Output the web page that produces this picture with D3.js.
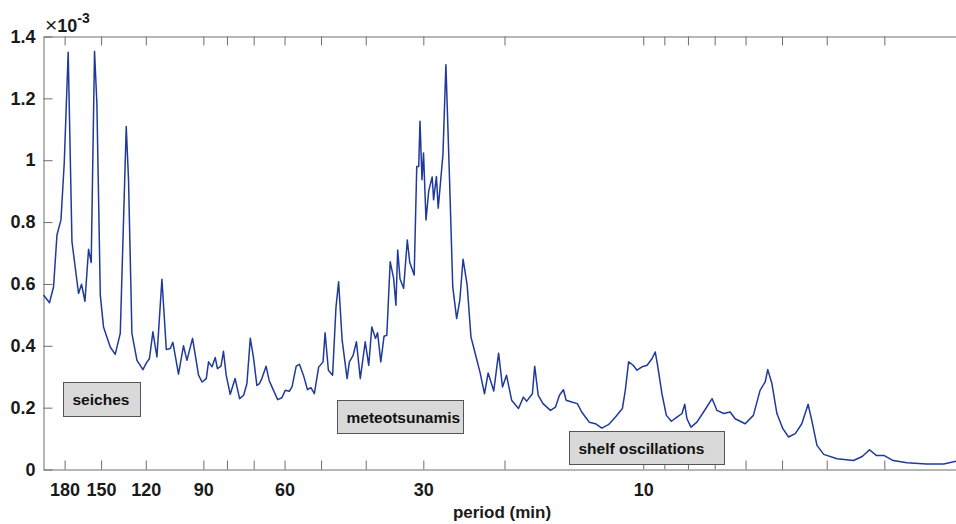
<!DOCTYPE html>
<html>
<head>
<meta charset="utf-8">
<script src="https://cdn.jsdelivr.net/npm/d3@7"></script>
<style>
  body { margin: 0; background: #ffffff; }
  svg { display: block; }
</style>
</head>
<body>
<div class="canvas"></div>
<script>
// period (min), spectral values in units of 10^-3
var periodMin = [200.0,194.1,190.2,187.0,183.3,180.3,176.8,173.5,167.9,165.4,
  162.6,159.7,157.6,155.0,153.2,150.6,148.2,143.3,139.8,136.3,
  132.3,130.8,128.6,125.4,121.7,119.7,117.8,115.8,113.5,110.7,
  108.3,106.2,104.8,101.9,99.4,97.7,95.0,92.2,90.6,88.7,
  87.7,86.2,84.8,83.9,82.4,81.4,80.3,78.7,76.8,75.1,
  73.6,72.4,71.2,70.1,68.9,68.0,67.2,65.8,64.8,63.9,
  62.1,60.8,59.8,58.6,57.8,56.6,55.7,54.6,53.5,52.6,
  51.7,50.6,49.5,49.0,48.2,47.2,46.4,45.8,45.0,43.9,
  43.4,42.6,41.9,41.1,40.1,39.4,38.8,38.1,37.7,37.1,
  36.5,36.0,35.4,34.8,34.4,34.1,33.7,33.1,32.5,32.1,
  31.4,31.0,30.7,30.5,30.2,29.97,29.6,29.2,28.7,28.5,
  28.1,27.85,27.5,27.2,26.8,26.3,25.9,25.4,25.0,24.6,
  24.1,23.65,23.15,22.6,22.1,21.7,21.1,20.6,20.2,19.8,
  19.3,18.65,18.2,17.9,17.4,17.2,16.9,16.5,15.9,15.5,
  15.2,14.9,14.7,14.3,13.9,13.6,13.1,12.7,12.3,11.9,
  11.5,11.1,10.94,10.76,10.52,10.32,10.06,9.81,9.57,9.42,
  9.31,9.11,8.91,8.69,8.45,8.24,8.13,8.04,7.88,7.65,
  7.40,7.09,6.92,6.69,6.48,6.32,6.01,5.77,5.58,5.44,
  5.37,5.26,5.13,4.98,4.84,4.68,4.53,4.39,4.31,4.20,
  4.06,3.80,3.50,3.35,3.23,3.12,3.00,2.87,2.68,2.43,
  2.23,2.09];

var spectrum = [0.564,0.539,0.591,0.758,0.807,0.992,1.349,0.737,0.569,0.599,
  0.544,0.712,0.669,1.352,1.186,0.564,0.461,0.396,0.372,0.440,
  1.109,0.937,0.440,0.353,0.323,0.344,0.359,0.445,0.364,0.615,
  0.388,0.391,0.411,0.308,0.400,0.353,0.424,0.305,0.283,0.294,
  0.348,0.332,0.362,0.326,0.334,0.382,0.305,0.243,0.294,0.229,
  0.240,0.278,0.424,0.364,0.272,0.278,0.294,0.334,0.288,0.267,
  0.226,0.232,0.256,0.253,0.267,0.334,0.340,0.305,0.258,0.265,
  0.245,0.331,0.348,0.442,0.321,0.305,0.526,0.607,0.418,0.294,
  0.348,0.369,0.413,0.294,0.413,0.337,0.461,0.424,0.442,0.348,
  0.431,0.434,0.672,0.618,0.531,0.710,0.616,0.586,0.742,0.669,
  0.629,0.980,0.980,1.126,0.937,1.023,0.807,0.901,0.946,0.872,
  0.947,0.845,0.937,1.018,1.309,0.924,0.591,0.488,0.548,0.680,
  0.596,0.429,0.375,0.314,0.245,0.312,0.254,0.376,0.267,0.305,
  0.224,0.197,0.234,0.221,0.245,0.334,0.240,0.213,0.191,0.202,
  0.240,0.258,0.224,0.218,0.213,0.186,0.153,0.148,0.134,0.145,
  0.169,0.197,0.256,0.348,0.337,0.321,0.332,0.337,0.359,0.380,
  0.337,0.245,0.175,0.156,0.169,0.181,0.211,0.164,0.137,0.153,
  0.186,0.229,0.191,0.181,0.186,0.164,0.148,0.175,0.256,0.283,
  0.323,0.278,0.181,0.132,0.105,0.116,0.148,0.211,0.159,0.078,
  0.049,0.035,0.029,0.042,0.064,0.045,0.045,0.029,0.022,0.018,
  0.018,0.027];

var xTicks = [180,150,120,90,80,70,60,50,40,30,20,10,9,8,7,6,5,4,3];
var xTickLabels = [180,150,120,90,60,30,10];
var yTicks = [0,0.2,0.4,0.6,0.8,1,1.2,1.4];
var boxLabels = ["seiches","meteotsunamis","shelf oscillations"];

var width = 956, height = 524;
var plotLeft = 43.5, plotRight = 965.5, plotTop = 36.5, plotBottom = 469.5;
var axisColor = "#6e6e6e";
var font = "'Liberation Sans', Arial, sans-serif";

var svg = d3.select(".canvas")
  .append("svg")
  .attr("width", width)
  .attr("height", height);

var x = d3.scaleLog()
  .domain([200, 2])
  .range([plotLeft, plotRight]);

var y = d3.scaleLinear()
  .domain([0, 1.4])
  .range([plotBottom, plotTop]);

// axes (ticks point inward, like the matlab box)
var xAxis = svg.append("g")
  .attr("transform", "translate(0," + plotBottom + ")")
  .call(d3.axisBottom(x)
    .tickValues(xTicks)
    .tickSizeInner(-9)
    .tickSizeOuter(0)
    .tickPadding(14)
    .tickFormat(function(d){ return xTickLabels.indexOf(d) >= 0 ? d : ""; }));

var xTop = svg.append("g")
  .attr("transform", "translate(0," + plotTop + ")")
  .call(d3.axisTop(x)
    .tickValues(xTicks)
    .tickSizeInner(-9)
    .tickSizeOuter(0)
    .tickFormat(""));

var yAxis = svg.append("g")
  .attr("transform", "translate(" + plotLeft + ",0)")
  .call(d3.axisLeft(y)
    .tickValues(yTicks)
    .tickSizeInner(-9)
    .tickSizeOuter(0)
    .tickPadding(8)
    .tickFormat(d3.format("~g")));

[xAxis, xTop, yAxis].forEach(function(g){
  g.select(".domain").attr("stroke", axisColor);
  g.selectAll(".tick line").attr("stroke", axisColor);
  g.selectAll(".tick text")
    .attr("fill", "#1a1a1a")
    .attr("font-family", font)
    .attr("font-weight", "bold")
    .attr("font-size", "18px");
});

// exponent label
var expo = svg.append("text")
  .attr("x", 45)
  .attr("y", 32)
  .attr("font-family", font)
  .attr("fill", "#1a1a1a");
expo.append("tspan")
  .attr("font-size", "21px")
  .text("\u00d7");
expo.append("tspan")
  .attr("font-size", "18px")
  .attr("font-weight", "bold")
  .text("10");
expo.append("tspan")
  .attr("font-size", "14px")
  .attr("font-weight", "bold")
  .attr("dy", -9)
  .text("-3");

// x axis title
svg.append("text")
  .attr("x", 502)
  .attr("y", 518)
  .attr("text-anchor", "middle")
  .attr("font-family", font)
  .attr("font-weight", "bold")
  .attr("font-size", "17px")
  .attr("fill", "#1a1a1a")
  .text("period (min)");

// spectrum line
var data = periodMin.map(function(p, i){ return [p, spectrum[i]]; });

svg.append("path")
  .datum(data)
  .attr("fill", "none")
  .attr("stroke", "#1f3a9c")
  .attr("stroke-width", 1.5)
  .attr("stroke-linejoin", "round")
  .attr("d", d3.line()
    .x(function(d){ return x(d[0]); })
    .y(function(d){ return y(d[1]); }));

// annotation boxes
var boxes = [
  {x: 63.5, y: 382.5, w: 77, h: 34},
  {x: 337.5, y: 400.5, w: 126, h: 33},
  {x: 569.5, y: 431.5, w: 155, h: 33}
];

boxes.forEach(function(b, i){
  svg.append("rect")
    .attr("x", b.x)
    .attr("y", b.y)
    .attr("width", b.w)
    .attr("height", b.h)
    .attr("fill", "#d9d9d9")
    .attr("stroke", "#555555")
    .attr("stroke-width", 1);

  svg.append("text")
    .attr("x", b.x + 9)
    .attr("y", b.y + b.h / 2 + 5.5)
    .attr("font-family", font)
    .attr("font-weight", "bold")
    .attr("font-size", "15.5px")
    .attr("fill", "#111111")
    .text(boxLabels[i]);
});
</script>
</body>
</html>
